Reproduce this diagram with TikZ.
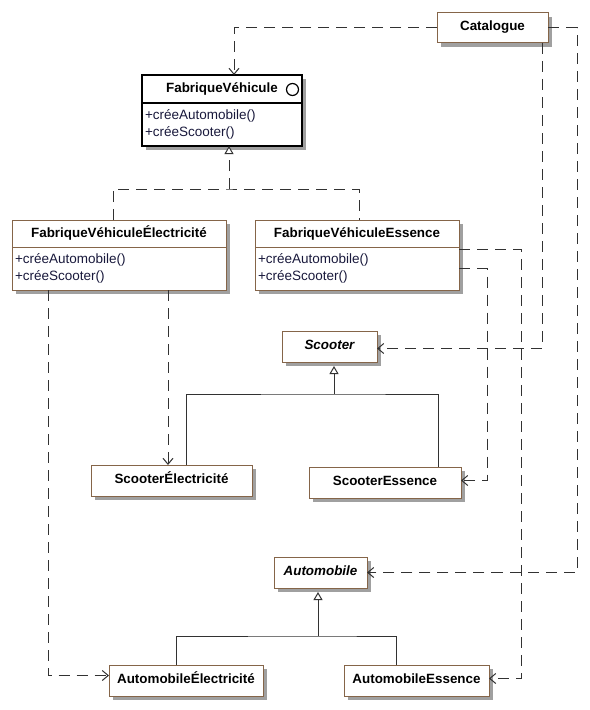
\documentclass[tikz,border=0pt]{standalone}
\usepackage{fontspec}
\setmainfont{Liberation Sans}
\usetikzlibrary{arrows.meta,calc}
\definecolor{brd}{RGB}{133,101,73}
\definecolor{shd}{RGB}{160,160,160}
\definecolor{lne}{RGB}{50,50,50}
\definecolor{meth}{RGB}{25,25,60}
\tikzset{
  cls/.style={draw=brd, line width=1bp, fill=white, inner sep=0pt, outer sep=0pt, anchor=north west},
  hdr/.style={cls, font=\fontsize{13.4bp}{16bp}\selectfont\bfseries, text height=9.5bp, text depth=2.5bp},
  single/.style={cls, font=\fontsize{13.4bp}{16bp}\selectfont\bfseries, text height=9.5bp, text depth=4.5bp},
  mbody/.style={cls, font=\fontsize{13.5bp}{17.5bp}\selectfont, text=meth, align=left, inner xsep=3bp},
  iface/.style={draw=black, line width=1.5bp},
  shadowbox/.style={fill=shd, draw=none, inner sep=0pt, outer sep=0pt, anchor=north west},
  dep/.style={draw=lne, line width=1bp, dash pattern=on 11bp off 7bp, -{Straight Barb[length=6bp,width=10bp]}},
  realize/.style={draw=lne, line width=1bp, dash pattern=on 11bp off 7bp},
  gen/.style={draw=lne, line width=1bp},
  tri/.style={-{Triangle[open, length=8bp, width=9bp, fill=white]}}
}
\begin{document}
\begin{tikzpicture}[x=1bp,y=-1bp]
\useasboundingbox (0,0) rectangle (590,710);

% shadows (drawn first, offset 4px right and down)
\node[shadowbox, minimum width=111bp, minimum height=30bp] (catS) at (441,17) {};
\node[shadowbox, minimum width=160bp, minimum height=71bp] (fvS) at (146,79) {};
\node[shadowbox, minimum width=214bp, minimum height=70bp] (feS) at (16,224) {};
\node[shadowbox, minimum width=204bp, minimum height=70bp] (fsS) at (259,224) {};
\node[shadowbox, minimum width=95bp, minimum height=31bp] (scS) at (286,335) {};
\node[shadowbox, minimum width=161bp, minimum height=31bp] (scelS) at (95,469) {};
\node[shadowbox, minimum width=152bp, minimum height=31bp] (scessS) at (313,471) {};
\node[shadowbox, minimum width=93bp, minimum height=31bp] (autoS) at (278,561) {};
\node[shadowbox, minimum width=154bp, minimum height=31bp] (autoelS) at (113,669) {};
\node[shadowbox, minimum width=145bp, minimum height=31bp] (autoessS) at (348,669) {};

% Catalogue
\node[single, minimum width=111bp, minimum height=30bp] (cat) at (437,13) {Catalogue};

% FabriqueVehicule (interface)
\node[hdr, iface, minimum width=160bp, minimum height=28bp] (fvh) at (142,75) {FabriqueVéhicule\hspace{17bp}};
\node[mbody, iface, text width=154bp, minimum height=43bp] (fvb) at (142,103) {+créeAutomobile()\\+créeScooter()};
\node[draw=black, line width=1.2bp, circle, minimum size=12bp, inner sep=0pt] (fvc) at (292.5,89.5) {};

% FabriqueVehiculeElectricite
\node[hdr, minimum width=214bp, minimum height=27bp] (feh) at (12,220) {FabriqueVéhiculeÉlectricité};
\node[mbody, text width=208bp, minimum height=43bp] (feb) at (12,247) {+créeAutomobile()\\+créeScooter()};

% FabriqueVehiculeEssence
\node[hdr, minimum width=204bp, minimum height=27bp] (fsh) at (255,220) {FabriqueVéhiculeEssence};
\node[mbody, text width=198bp, minimum height=43bp] (fsb) at (255,247) {+créeAutomobile()\\+créeScooter()};

% Scooter family
\node[single, minimum width=95bp, minimum height=31bp] (sc) at (282,331) {\itshape Scooter};
\node[single, minimum width=161bp, minimum height=31bp] (scel) at (91,465) {ScooterÉlectricité};
\node[single, minimum width=152bp, minimum height=31bp] (scess) at (309,467) {ScooterEssence};

% Automobile family
\node[single, minimum width=93bp, minimum height=31bp] (auto) at (274,557) {\itshape Automobile};
\node[single, minimum width=154bp, minimum height=31bp] (autoel) at (109,665) {AutomobileÉlectricité};
\node[single, minimum width=145bp, minimum height=31bp] (autoess) at (344,665) {AutomobileEssence};

% helper coordinates
\coordinate (busF) at (229,189);
\coordinate (busS) at (334,394);
\coordinate (busA) at (318,636);
\coordinate (r1) at (577,300);
\coordinate (r2) at (521,400);
\coordinate (r3) at (487,400);

% realization of FabriqueVehicule
\draw[realize] ($(feh.north west)+(101,0)$) |- (busF) -| ($(fsh.north west)+(104,0)$);
\draw[realize, tri] (busF) -- (busF |- fvb.south);

% Scooter generalization
\draw[gen] ($(scel.north west)+(95,0)$) |- (busS) -| ($(scess.north west)+(129,0)$);
\draw[gen, tri, shorten >=4bp] (busS) -- (busS |- sc.south);

% Automobile generalization
\draw[gen] ($(autoel.north west)+(67,0)$) |- (busA) -| ($(autoess.north west)+(52,0)$);
\draw[gen, tri, shorten >=4bp] (busA) -- (busA |- auto.south);

% dependencies from Catalogue
\draw[dep] (cat.west) -| ($(fvh.north west)+(92,0)$);
\draw[dep] (cat.east) -| (r1) |- (auto.east);
\draw[dep] ($(cat.south east)+(-6,0)$) |- ($(sc.east)+(0,2)$);

% dependencies from FabriqueVehiculeEssence
\draw[dep] ($(fsb.north east)+(0,2)$) -| (r2) |- ($(autoess.east)+(0,-2)$);
\draw[dep] (fsb.east) -| (r3) |- ($(scess.east)+(0,-2)$);

% dependencies from FabriqueVehiculeElectricite
\draw[dep] ($(feb.south west)+(156,0)$) coordinate (t1) -- (t1 |- scel.north);
\draw[dep] ($(feb.south west)+(36,0)$) |- ($(autoel.west)+(0,-5)$);
\end{tikzpicture}
\end{document}
